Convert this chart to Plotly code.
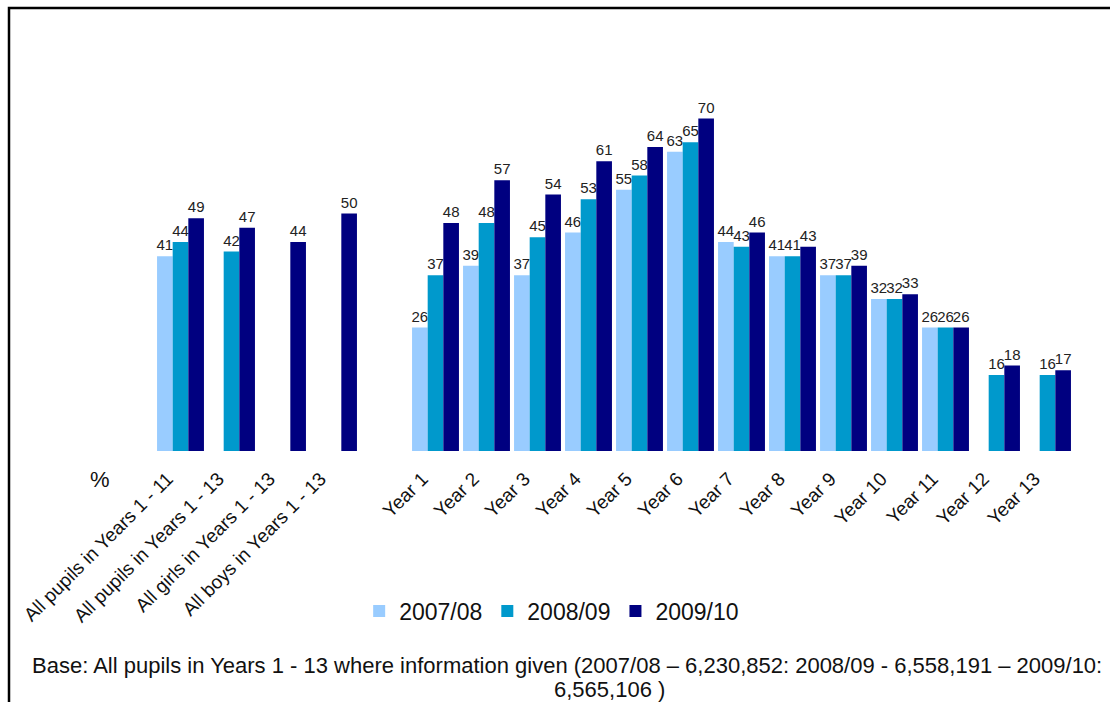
import plotly.graph_objects as go

categories = ["All pupils in Years 1 - 11", "All pupils in Years 1 - 13",
              "All girls in Years 1 - 13", "All boys in Years 1 - 13", " ",
              "Year 1", "Year 2", "Year 3", "Year 4", "Year 5", "Year 6", "Year 7",
              "Year 8", "Year 9", "Year 10", "Year 11", "Year 12", "Year 13"]
series_names = ["2007/08", "2008/09", "2009/10"]
v0708 = [41, None, None, None, None, 26, 39, 37, 46, 55, 63, 44, 41, 37, 32, 26, None, None]
v0809 = [44, 42, None, None, None, 37, 48, 45, 53, 58, 65, 43, 41, 37, 32, 26, 16, 16]
v0910 = [49, 47, 44, 50, None, 48, 57, 54, 61, 64, 70, 46, 43, 39, 33, 26, 18, 17]
colors = ["#99CCFF", "#0099CC", "#000080"]

FONT = "Arial, Liberation Sans, sans-serif"
W, H = 1110, 702
L, R, T, B = 155, 37, 71, 251
PW, PH = W - L - R, H - T - B

def px(x):
    return (x - L) / PW

def py(y):
    return (H - B - y) / PH

fig = go.Figure()
for name, vals, col in zip(series_names, [v0708, v0809, v0910], colors):
    fig.add_trace(go.Bar(
        x=categories, y=vals, name=name, marker_color=col, marker_line_width=0,
        text=[("" if v is None else str(v)) for v in vals],
        textposition="outside", constraintext="none", cliponaxis=False,
        textfont=dict(family=FONT, size=15, color="#222222"),
    ))

fig.update_layout(
    width=W, height=H, template="none",
    paper_bgcolor="white", plot_bgcolor="white",
    margin=dict(l=L, r=R, t=T, b=B, autoexpand=False),
    barmode="group", bargap=0.08, bargroupgap=0,
    font=dict(family=FONT, color="#111111"),
    xaxis=dict(type="category", range=[-0.5, 17.5], tickangle=-45, showgrid=False,
               showline=False, zeroline=False, ticks="", automargin=False,
               ticklabelstandoff=12, ticklabelshift=-13,
               tickfont=dict(family=FONT, size=19, color="#111111")),
    yaxis=dict(range=[0, 80], showgrid=False, showline=False, zeroline=False,
               showticklabels=False, ticks="", automargin=False),
    legend=dict(orientation="h", xref="container", yref="container",
                x=0.497, xanchor="center", y=1 - 611 / H, yanchor="middle",
                font=dict(family=FONT, size=23, color="#111111"),
                itemclick=False, traceorder="normal"),
    showlegend=True,
)

fig.add_annotation(text="%", xref="paper", yref="paper", x=px(100), y=py(480),
                   showarrow=False, font=dict(family=FONT, size=22, color="#111111"),
                   xanchor="center", yanchor="middle")
fig.add_annotation(text="Base: All pupils in Years 1 - 13 where information given (2007/08 \u2013 6,230,852: 2008/09 - 6,558,191 \u2013 2009/10:",
                   xref="paper", yref="paper", x=px(30), y=py(665), showarrow=False,
                   font=dict(family=FONT, size=22, color="#111111"),
                   xanchor="left", yanchor="middle")
fig.add_annotation(text="6,565,106 )", xref="paper", yref="paper", x=px(609), y=py(689),
                   showarrow=False, font=dict(family=FONT, size=22, color="#111111"),
                   xanchor="center", yanchor="middle")

fig.add_shape(type="rect", xref="paper", yref="paper",
              x0=px(9), x1=px(1125), y0=py(8), y1=py(720),
              line=dict(color="black", width=2.5), fillcolor="rgba(0,0,0,0)", layer="above")

fig.write_html("out.html", config={"displayModeBar": False},
               post_script="document.body.style.margin='0';")
